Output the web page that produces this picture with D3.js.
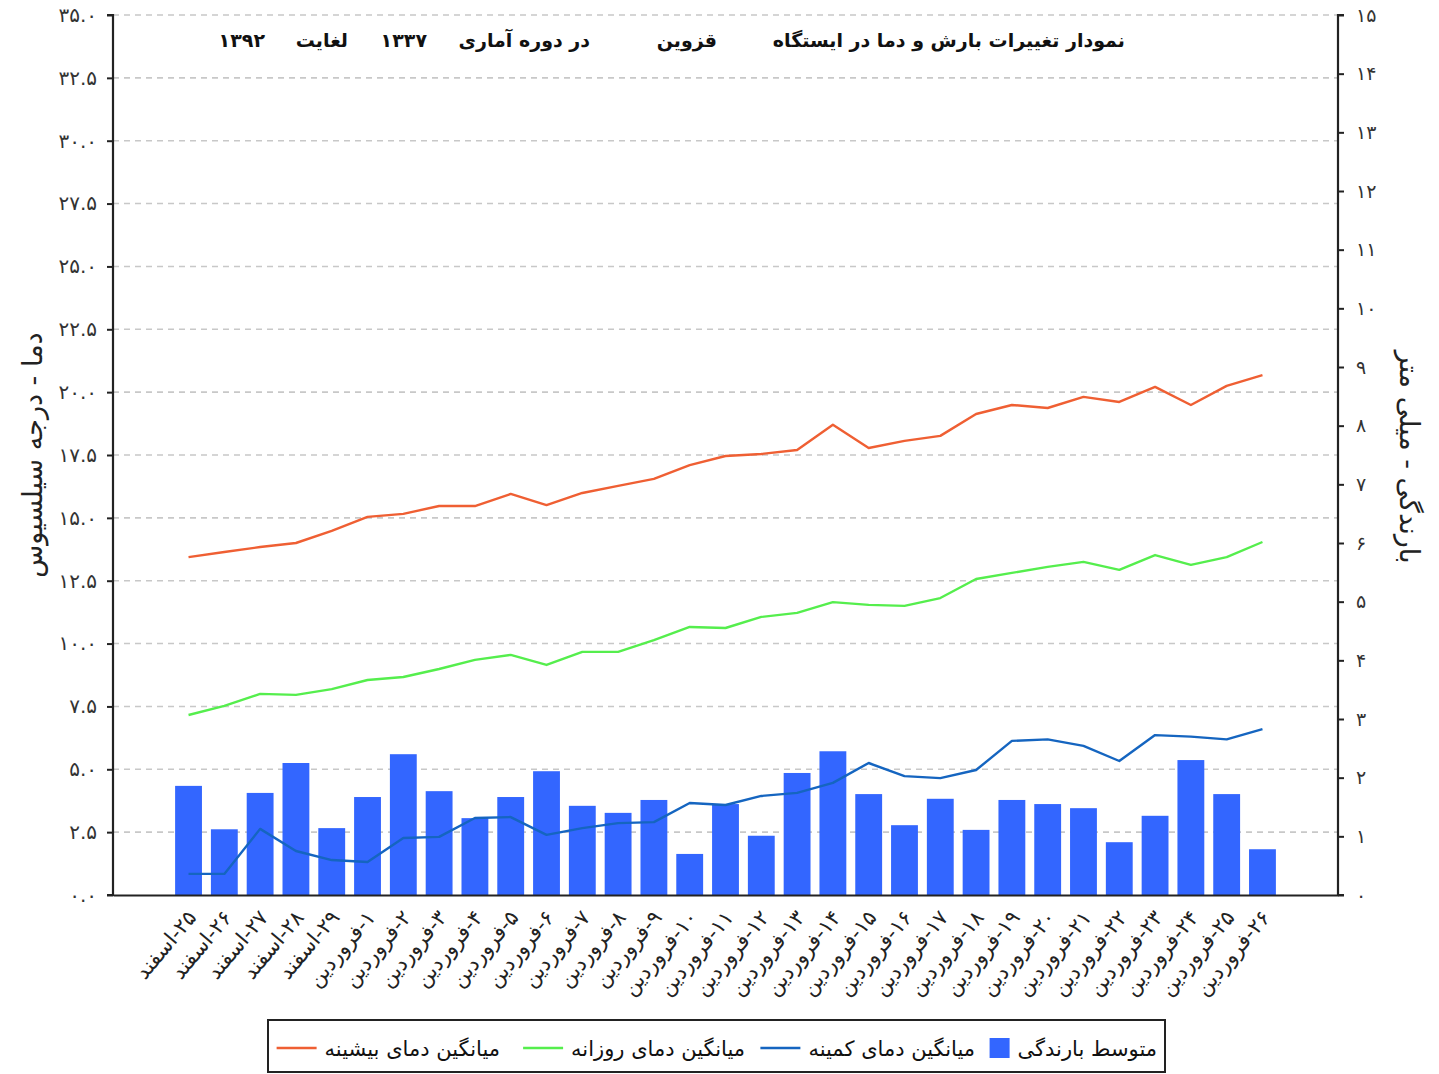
<!DOCTYPE html>
<html>
<head>
<meta charset="utf-8">
<script src="https://cdn.jsdelivr.net/npm/d3@7/dist/d3.min.js"></script>
<style>
  html, body { margin: 0; padding: 0; background: #fff; }
  svg { display: block; }
  text { font-family: "DejaVu Sans", "Noto Sans", sans-serif; }
</style>
</head>
<body>
<svg id="chart" width="1439" height="1074"></svg>
<script>
// ---------- DATA ----------
const categories = [
  "۲۵-اسفند", "۲۶-اسفند", "۲۷-اسفند", "۲۸-اسفند", "۲۹-اسفند",
  "۱-فروردین", "۲-فروردین", "۳-فروردین", "۴-فروردین", "۵-فروردین",
  "۶-فروردین", "۷-فروردین", "۸-فروردین", "۹-فروردین", "۱۰-فروردین",
  "۱۱-فروردین", "۱۲-فروردین", "۱۳-فروردین", "۱۴-فروردین", "۱۵-فروردین",
  "۱۶-فروردین", "۱۷-فروردین", "۱۸-فروردین", "۱۹-فروردین", "۲۰-فروردین",
  "۲۱-فروردین", "۲۲-فروردین", "۲۳-فروردین", "۲۴-فروردین", "۲۵-فروردین",
  "۲۶-فروردین"
];
// mean precipitation (mm) - right axis
const precipitation = [
  1.86, 1.12, 1.74, 2.25, 1.14, 1.67, 2.40, 1.77, 1.31, 1.67,
  2.11, 1.52, 1.40, 1.62, 0.70, 1.55, 1.01, 2.08, 2.45, 1.72,
  1.19, 1.64, 1.11, 1.62, 1.55, 1.48, 0.90, 1.35, 2.30, 1.72,
  0.78
];
// mean maximum temperature (°C) - left axis
const tempMax = [
  13.44, 13.64, 13.84, 14.00, 14.48, 15.04, 15.16, 15.47, 15.47, 15.95,
  15.51, 15.99, 16.27, 16.55, 17.10, 17.46, 17.54, 17.70, 18.70, 17.78,
  18.06, 18.26, 19.13, 19.49, 19.37, 19.81, 19.61, 20.21, 19.49, 20.25,
  20.68
];
// mean daily temperature (°C)
const tempMean = [
  7.16, 7.52, 8.00, 7.96, 8.19, 8.55, 8.67, 8.99, 9.35, 9.55,
  9.15, 9.67, 9.67, 10.14, 10.66, 10.62, 11.06, 11.22, 11.65, 11.54,
  11.50, 11.81, 12.57, 12.81, 13.05, 13.25, 12.93, 13.52, 13.13, 13.44,
  14.04
];
// mean minimum temperature (°C)
const tempMin = [
  0.84, 0.84, 2.63, 1.75, 1.39, 1.31, 2.27, 2.31, 3.06, 3.10,
  2.39, 2.66, 2.86, 2.90, 3.66, 3.58, 3.94, 4.06, 4.46, 5.25,
  4.73, 4.65, 4.97, 6.13, 6.19, 5.93, 5.33, 6.36, 6.30, 6.19,
  6.60
];
const leftTickValues = [0, 2.5, 5, 7.5, 10, 12.5, 15, 17.5, 20, 22.5, 25, 27.5, 30, 32.5, 35];
const leftTickLabels = ["۰.۰", "۲.۵", "۵.۰", "۷.۵", "۱۰.۰", "۱۲.۵", "۱۵.۰", "۱۷.۵", "۲۰.۰", "۲۲.۵", "۲۵.۰", "۲۷.۵", "۳۰.۰", "۳۲.۵", "۳۵.۰"];
const rightTickValues = [0, 1, 2, 3, 4, 5, 6, 7, 8, 9, 10, 11, 12, 13, 14, 15];
const rightTickLabels = ["۰", "۱", "۲", "۳", "۴", "۵", "۶", "۷", "۸", "۹", "۱۰", "۱۱", "۱۲", "۱۳", "۱۴", "۱۵"];
const titleParts = ["نمودار تغییرات بارش و دما در ایستگاه", "قزوین", "در دوره آماری", "۱۳۳۷", "لغایت", "۱۳۹۲"];
const leftAxisTitle = "دما - درجه سیلسیوس";
const rightAxisTitle = "بارندگی - میلی متر";
const legendLabels = ["متوسط بارندگی", "میانگین دمای کمینه", "میانگین دمای روزانه", "میانگین دمای بیشینه"];

// ---------- LAYOUT ----------
const RLE = "\u202B", PDF = "\u202C";
const svg = d3.select("#chart");
const plotLeft = 113, plotRight = 1338, plotTop = 15, plotBottom = 895;
const colors = { bar: "#3366ff", min: "#1565c0", mean: "#55ee4d", max: "#ef5f33" };

const x = d3.scaleBand().domain(categories).range([plotLeft, plotRight])
  .paddingInner(0.25).paddingOuter(1.735);
const yL = d3.scaleLinear().domain([0, 35]).range([plotBottom, plotTop]);
const yR = d3.scaleLinear().domain([0, 15]).range([plotBottom, plotTop]);

// gridlines
svg.append("g").selectAll("line").data(leftTickValues.filter(v => v > 0)).join("line")
  .attr("x1", plotLeft).attr("x2", plotRight)
  .attr("y1", d => yL(d)).attr("y2", d => yL(d))
  .attr("stroke", "#c8c8c8").attr("stroke-width", 1.6)
  .attr("stroke-dasharray", "6,5");

// bars
svg.append("g").selectAll("rect").data(precipitation).join("rect")
  .attr("x", (d, i) => x(categories[i]))
  .attr("width", x.bandwidth())
  .attr("y", d => yR(d))
  .attr("height", d => plotBottom - yR(d))
  .attr("fill", colors.bar);

// lines
const cx = i => x(categories[i]) + x.bandwidth() / 2;
const lineGen = d3.line().x((d, i) => cx(i)).y(d => yL(d));
[[tempMax, colors.max], [tempMean, colors.mean], [tempMin, colors.min]].forEach(([arr, c]) => {
  svg.append("path").datum(arr).attr("d", lineGen)
    .attr("fill", "none").attr("stroke", c).attr("stroke-width", 2.4)
    .attr("stroke-linejoin", "round");
});

// left axis
const axL = svg.append("g").attr("transform", `translate(${plotLeft},0)`)
  .call(d3.axisLeft(yL).tickValues(leftTickValues)
    .tickFormat((d, i) => leftTickLabels[i]).tickSize(6).tickPadding(10));
// right axis
const axR = svg.append("g").attr("transform", `translate(${plotRight},0)`)
  .call(d3.axisRight(yR).tickValues(rightTickValues)
    .tickFormat((d, i) => rightTickLabels[i]).tickSize(6).tickPadding(12));
[axL, axR].forEach(g => {
  g.select(".domain").attr("stroke", "#222").attr("stroke-width", 2.2);
  g.selectAll(".tick line").attr("stroke", "#222").attr("stroke-width", 2);
  g.selectAll(".tick text").attr("fill", "#333")
    .style("font-family", "'DejaVu Sans', sans-serif");
});
axL.selectAll(".tick text").attr("font-size", 20);
axR.selectAll(".tick text").attr("font-size", 19);
axL.select(".domain").attr("d", `M-6,${plotTop}H0V${plotBottom}H-6`);
axR.select(".domain").attr("d", `M6,${plotTop}H0V${plotBottom}H6`);

// x axis (bottom)
const axB = svg.append("g").attr("transform", `translate(0,${plotBottom})`)
  .call(d3.axisBottom(x).tickSize(0).tickPadding(0).tickFormat(d => RLE + d + PDF));
axB.select(".domain").attr("stroke", "#222").attr("stroke-width", 2.2);
axB.selectAll(".tick text")
  .attr("font-size", 21).attr("fill", "#222")
  .attr("text-anchor", "end")
  .attr("dy", "0")
  .attr("transform", "translate(9,23) rotate(-50)")
  .style("font-family", "'DejaVu Sans', sans-serif");

// title
const titleRight = [1125, 717, 590, 427, 348, 265];
svg.append("g").selectAll("text").data(titleParts).join("text")
  .attr("x", (d, i) => titleRight[i]).attr("y", 47)
  .attr("text-anchor", "end")
  .attr("font-size", 19).attr("font-weight", "bold").attr("fill", "#111")
  .text(d => d);

// axis titles
svg.append("text")
  .attr("transform", `translate(42,455) rotate(-90)`)
  .attr("text-anchor", "middle").attr("font-size", 27).attr("fill", "#222")
  .text(leftAxisTitle);
svg.append("text")
  .attr("transform", `translate(1400,457) rotate(90)`)
  .attr("text-anchor", "middle").attr("font-size", 27).attr("fill", "#222")
  .text(rightAxisTitle);

// legend
const lg = svg.append("g");
lg.append("rect").attr("x", 268).attr("y", 1020).attr("width", 897).attr("height", 52)
  .attr("fill", "#fff").attr("stroke", "#222").attr("stroke-width", 2);
const legendColors = [colors.bar, colors.min, colors.mean, colors.max];
const legendRight = [1157, 975, 745, 500];
legendLabels.forEach((lab, i) => {
  const t = lg.append("text").attr("x", legendRight[i]).attr("y", 1056)
    .attr("text-anchor", "end").attr("font-size", 21).attr("fill", "#111").text(lab);
  const w = t.node().getComputedTextLength();
  const left = legendRight[i] - w;
  if (i === 0) {
    lg.append("rect").attr("x", left - 28).attr("y", 1038).attr("width", 20).attr("height", 20)
      .attr("fill", legendColors[i]);
  } else {
    lg.append("line").attr("x1", left - 48).attr("x2", left - 8)
      .attr("y1", 1048).attr("y2", 1048)
      .attr("stroke", legendColors[i]).attr("stroke-width", 2.5);
  }
});
</script>
</body>
</html>
